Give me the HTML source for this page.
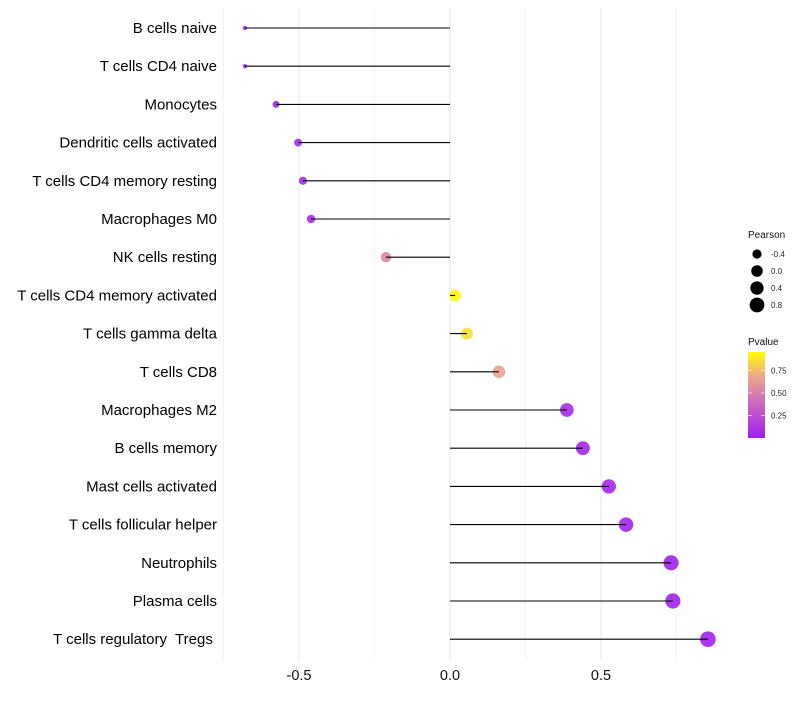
<!DOCTYPE html>
<html><head><meta charset="utf-8"><style>
body{margin:0;background:#fff;font-family:"Liberation Sans",sans-serif}
text{white-space:pre}
</style></head><body>
<svg id="c" width="800" height="700" xmlns="http://www.w3.org/2000/svg">
<defs><linearGradient id="pg" x1="0" y1="1" x2="0" y2="0">
<stop offset="0" stop-color="#a020f0"/><stop offset="0.45" stop-color="#d070b8"/><stop offset="0.75" stop-color="#f0b080"/><stop offset="1" stop-color="#ffff00"/></linearGradient></defs>
</svg>
<script>
const categories=["B cells naive","T cells CD4 naive","Monocytes","Dendritic cells activated","T cells CD4 memory resting","Macrophages M0","NK cells resting","T cells CD4 memory activated","T cells gamma delta","T cells CD8","Macrophages M2","B cells memory","Mast cells activated","T cells follicular helper","Neutrophils","Plasma cells","T cells regulatory  Tregs "];
const pearson=[-0.679,-0.679,-0.576,-0.503,-0.487,-0.46,-0.212,0.017,0.056,0.162,0.387,0.44,0.526,0.583,0.732,0.738,0.854];
const pvalue=[0.02,0.02,0.03,0.05,0.05,0.06,0.55,0.97,0.9,0.68,0.06,0.05,0.04,0.03,0.01,0.01,0.005];
const xTicks=[-0.5,0,0.5];
const xMinor=[-0.75,-0.25,0.25,0.75];
const sizeLegend=[-0.4,0.0,0.4,0.8];
const colorTicks=[0.75,0.5,0.25];
const svg=document.getElementById('c');
const NS='http://www.w3.org/2000/svg';
const X=v=>450+v*302;
const Y=i=>28+i*38.2;
const R=p=>2+5.8*Math.sqrt(Math.max(0,p+0.68)/1.53);
function col(p){const st=[[0,[160,32,240]],[0.45,[208,112,184]],[0.75,[240,176,128]],[1,[255,255,0]]];
for(let k=1;k<st.length;k++){if(p<=st[k][0]){const a=st[k-1],b=st[k],t=(p-a[0])/(b[0]-a[0]);return 'rgb('+a[1].map((c,j)=>Math.round(c+(b[1][j]-c)*t)).join(',')+')';}}return 'rgb(255,255,0)';}
function el(t,a,txt){const e=document.createElementNS(NS,t);for(const k in a)e.setAttribute(k,a[k]);if(txt!==undefined)e.textContent=txt;svg.appendChild(e);return e;}
xMinor.concat(xTicks).forEach(v=>{const g=el('line',{x1:X(v),x2:X(v),y1:8,y2:660,stroke:'#ebebeb','stroke-width':xTicks.includes(v)?1.1:0.6});

});
xTicks.forEach(v=>{const t=el('text',{x:X(v),y:680,'text-anchor':'middle','font-size':14.5,fill:'#111'},v===0?'0.0':String(v));

});
categories.forEach((c,i)=>{const t=el('text',{x:217,y:Y(i)+5,'text-anchor':'end','font-size':15,fill:'#000'},c);


const d=el('circle',{cx:X(pearson[i]),cy:Y(i),r:R(pearson[i]),fill:col(pvalue[i]),opacity:0.9});


const l=el('line',{x1:X(0),x2:X(pearson[i]),y1:Y(i),y2:Y(i),stroke:'#000','stroke-width':1.1});

});
let t=el('text',{x:748,y:238,'font-size':10,fill:'#111'},'Pearson');


sizeLegend.forEach((v,i)=>{const cy=254+i*17;const c=el('circle',{cx:757,cy:cy,r:R(v)*0.85+0.8,fill:'#000'});


const tt=el('text',{x:771,y:cy+3,'font-size':8,fill:'#222'},v.toFixed(1));

});
t=el('text',{x:748,y:345,'font-size':10,fill:'#111'},'Pvalue');


const bar=el('rect',{x:748,y:352,width:17,height:86,fill:'url(#pg)'});


colorTicks.forEach(v=>{const y=438-v*90;el('line',{x1:748,x2:752,y1:y,y2:y,stroke:'#fff','stroke-width':0.6});el('line',{x1:761,x2:765,y1:y,y2:y,stroke:'#fff','stroke-width':0.6});
const tt=el('text',{x:771,y:y+3,'font-size':8,fill:'#222'},v.toFixed(2));

});
</script>
</body></html>
